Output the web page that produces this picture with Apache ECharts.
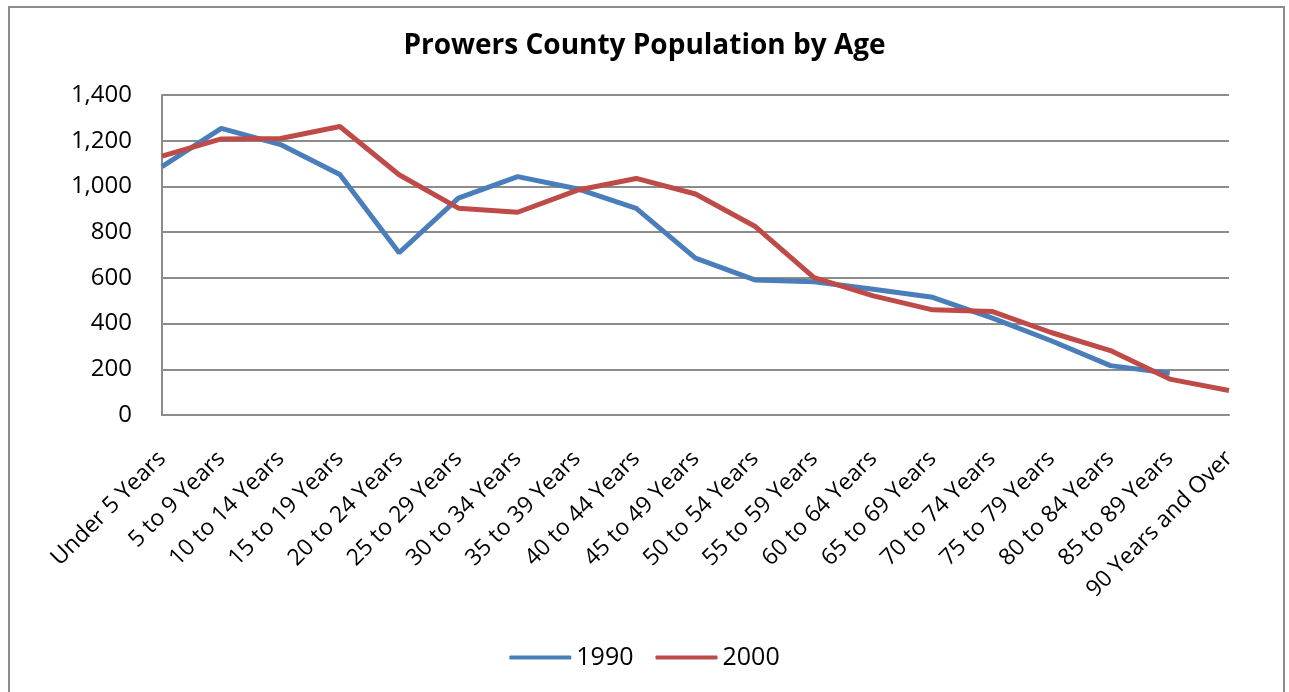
<!DOCTYPE html>
<html>
<head>
<meta charset="utf-8">
<title>Prowers County Population by Age</title>
<script src="https://cdn.jsdelivr.net/npm/echarts@6/dist/echarts.min.js"></script>
<style>
  html, body { margin: 0; padding: 0; background: #fff; }
  #frame { position: absolute; left: 8px; top: 6px; width: 1277px; height: 700px; border: 2px solid #8c8c8c; box-sizing: border-box; }
  #chart { position: absolute; left: 0; top: 0; width: 1289px; height: 692px; }
</style>
</head>
<body>
<div id="frame"></div>
<div id="chart"></div>
<script>
// age groups on the x axis
const ageGroups = [
  'Under 5 Years', '5 to 9 Years', '10 to 14 Years', '15 to 19 Years', '20 to 24 Years',
  '25 to 29 Years', '30 to 34 Years', '35 to 39 Years', '40 to 44 Years', '45 to 49 Years',
  '50 to 54 Years', '55 to 59 Years', '60 to 64 Years', '65 to 69 Years', '70 to 74 Years',
  '75 to 79 Years', '80 to 84 Years', '85 to 89 Years', '90 Years and Over'
]
// population
const pop1990 = [1087, 1254, 1183, 1052, 710, 949, 1043, 990, 904, 686,
  591, 583, 550, 515, 425, 325, 216, 183, null]
const pop2000 = [1133, 1208, 1210, 1262, 1051, 905, 887, 983, 1035, 967,
  826, 601, 521, 460, 453, 361, 282, 157, 107]

const blue = '#4a7ebb'
const red = '#be4b48'
const font = '"Open Sans", sans-serif'

const chart = echarts.init(document.getElementById('chart'))
chart.setOption({
  animation: false,
  title: {
    text: 'Prowers County Population by Age',
    left: 'center',
    top: 27,
    textStyle: {fontFamily: font, fontSize: 28, fontWeight: 'bold', color: '#000'}
  },
  legend: {
    bottom: 17,
    left: 'center',
    itemWidth: 62,
    itemHeight: 4,
    itemGap: 22,
    icon: 'roundRect',
    textStyle: {fontFamily: font, fontSize: 25, color: '#000'},
    data: ['1990', '2000']
  },
  grid: {
    left: 162,
    right: 60,
    top: 95,
    bottom: 277
  },
  xAxis: {
    type: 'category',
    data: ageGroups,
    boundaryGap: false,
    axisLine: {lineStyle: {color: '#8c8c8c', width: 2}},
    axisTick: {show: false},
    axisLabel: {
      rotate: 45,
      interval: 0,
      margin: 40,
      fontFamily: font,
      fontSize: 23,
      color: '#000'
    }
  },
  yAxis: {
    type: 'value',
    min: 0,
    max: 1400,
    interval: 200,
    axisLine: {show: true, lineStyle: {color: '#8c8c8c', width: 2}},
    axisTick: {show: false},
    splitLine: {lineStyle: {color: '#8c8c8c', width: 2}},
    axisLabel: {
      margin: 30,
      fontFamily: font,
      fontSize: 24,
      color: '#000',
      formatter: v => v.toLocaleString('en-US')
    }
  },
  series: [
    {
      name: '1990',
      type: 'line',
      data: pop1990,
      symbol: 'none',
      color: blue,
      lineStyle: {width: 5, color: blue}
    },
    {
      name: '2000',
      type: 'line',
      data: pop2000,
      symbol: 'none',
      color: red,
      lineStyle: {width: 5, color: red}
    }
  ]
})
</script>
</body>
</html>
